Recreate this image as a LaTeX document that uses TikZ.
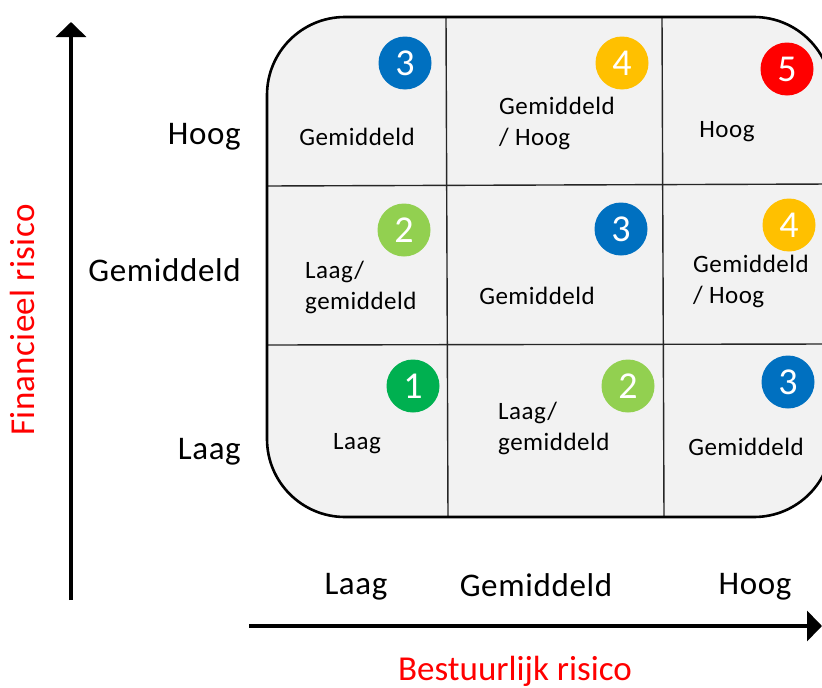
\documentclass[tikz,border=0pt]{standalone}
\usepackage{fontspec}
\setmainfont{Carlito}
\newfontfamily\cellfont[LetterSpace=2]{Carlito}
\newfontfamily\axisfont[LetterSpace=2]{Carlito}
\newfontfamily\vlabfont[LetterSpace=1]{Carlito}
\usetikzlibrary{arrows.meta}
\definecolor{cblue}{HTML}{0070C0}
\definecolor{cyellow}{HTML}{FFC000}
\definecolor{cred}{HTML}{FF0000}
\definecolor{clgreen}{HTML}{92D050}
\definecolor{cgreen}{HTML}{00B050}
\definecolor{cellfill}{HTML}{F2F2F2}
\definecolor{labred}{HTML}{FF0000}
\tikzset{
  badge/.style={circle, minimum size=53pt, inner sep=0pt, text=white,
    font=\fontsize{38}{38}\selectfont},
  cell/.style={inner sep=0pt, align=left, text=black,
    font=\cellfont\fontsize{25}{31}\selectfont},
  axislab/.style={inner sep=0pt, text=black, font=\axisfont\fontsize{33}{36}\selectfont},
  redlab/.style={inner sep=0pt, text=labred, font=\fontsize{35}{38}\selectfont},
  gridline/.style={line width=1.4pt, draw=black!85},
  axisarrow/.style={line width=3.6pt, -{Triangle[width=30pt,length=15pt]}},
}
\begin{document}
\begin{tikzpicture}[x=1pt,y=-1pt]
\useasboundingbox (0,0) rectangle (822,688);
\clip (0,0) rectangle (822,688);
% matrix background
\fill[cellfill, rounded corners=78pt] (267,17) rectangle (832,517);
\draw[gridline] (446,17) -- (448,517);
\draw[gridline] (662,17) -- (664,517);
\draw[gridline] (267,186) -- (832,184);
\draw[gridline] (267,345) -- (832,344);
\draw[line width=2.6pt, rounded corners=78pt] (267,17) rectangle (832,517);
% badges
\node[badge, fill=cblue]    (b13) at (405,63)  {3};
\node[badge, fill=cyellow]  (b23) at (622,63)  {4};
\node[badge, fill=cred]     (b33) at (787,69)  {5};
\node[badge, fill=clgreen]  (b12) at (404,230) {2};
\node[badge, fill=cblue]    (b22) at (621,229) {3};
\node[badge, fill=cyellow]  (b32) at (789,225) {4};
\node[badge, fill=cgreen]   (b11) at (413,386) {1};
\node[badge, fill=clgreen]  (b21) at (628,386) {2};
\node[badge, fill=cblue]    (b31) at (788,382) {3};
% cell texts
\node[cell] (t13) at (357,137) {Gemiddeld};
\node[cell, anchor=west] (t23) at (499,123) {Gemiddeld\\/ Hoog};
\node[cell] (t33) at (727,132) {Hoog};
\node[cell, anchor=west] (t12) at (305,287) {Laag/\\gemiddeld};
\node[cell] (t22) at (537,296) {Gemiddeld};
\node[cell, anchor=west] (t32) at (693,281) {Gemiddeld\\/ Hoog};
\node[cell] (t11) at (357,444) {Laag};
\node[cell, anchor=west] (t21) at (498,428) {Laag/\\gemiddeld};
\node[cell] (t31) at (746,447) {Gemiddeld};
% vertical axis
\coordinate (v0) at (71,600);
\coordinate (v1) at (71,22);
\draw[axisarrow] (v0) -- (v1);
\node[axislab, anchor=east] (yh) at (241,137) {Hoog};
\node[axislab, anchor=east] (ym) at (241,270) {Gemiddeld};
\node[axislab, anchor=east] (yl) at (241,452) {Laag};
\node[redlab, font=\vlabfont\fontsize{35}{38}\selectfont, rotate=90] (ylab) at (22,320) {Financieel risico};
% horizontal axis
\coordinate (h0) at (249,626);
\coordinate (h1) at (822,626);
\draw[axisarrow] (h0) -- (h1);
\node[axislab] (xl) at (356,587) {Laag};
\node[axislab] (xm) at (536,585) {Gemiddeld};
\node[axislab] (xh) at (755,587) {Hoog};
\node[redlab] (xlab) at (515,671) {Bestuurlijk risico};
\end{tikzpicture}
\end{document}
